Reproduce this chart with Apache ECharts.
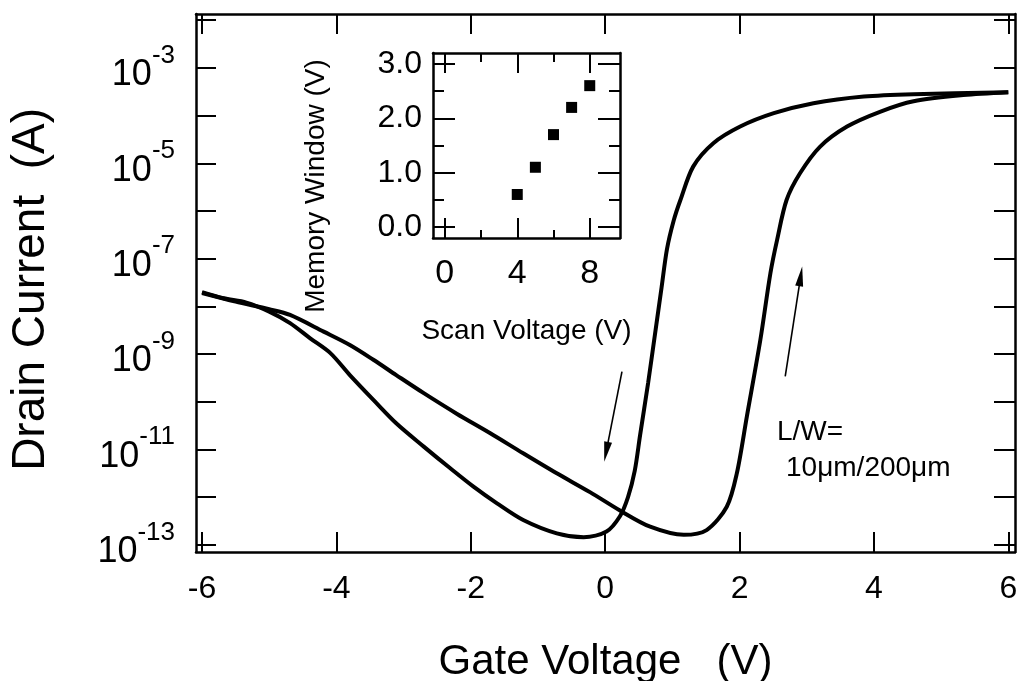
<!DOCTYPE html>
<html>
<head>
<meta charset="utf-8">
<script src="https://cdn.jsdelivr.net/npm/echarts@6/dist/echarts.min.js"></script>
<style>
  html, body { margin: 0; padding: 0; background: #fff; }
  #chart { width: 1024px; height: 681px; }
</style>
</head>
<body>
<div id="chart"></div>
<script>
// 主图数据：栅压 (V) 与 log10(漏电流/A)，两条扫描曲线
const gateA = [-6.0, -5.68, -5.34, -5.0, -4.69, -4.39, -4.09, -3.80, -3.45, -3.11, -2.70, -2.31, -1.96, -1.61, -1.22, -0.72, -0.32, 0.02, 0.22, 0.34, 0.44, 0.52, 0.64, 0.74, 0.84, 0.92, 1.02, 1.12, 1.31, 1.61, 2.01, 2.51, 3.10, 3.85, 4.59, 6.0];
const logIA = [-7.70, -7.83, -7.92, -8.11, -8.35, -8.67, -8.98, -9.44, -9.96, -10.45, -10.94, -11.39, -11.78, -12.13, -12.48, -12.76, -12.84, -12.72, -12.40, -12.0, -11.45, -10.7, -9.6, -8.6, -7.6, -6.8, -6.2, -5.77, -5.07, -4.58, -4.23, -3.95, -3.74, -3.60, -3.55, -3.51];
const gateB = [-6.0, -5.5, -5.0, -4.69, -4.19, -3.80, -3.45, -3.11, -2.70, -2.21, -1.71, -1.22, -0.72, -0.22, 0.22, 0.67, 1.17, 1.51, 1.81, 1.96, 2.11, 2.31, 2.46, 2.56, 2.70, 2.90, 3.20, 3.60, 4.09, 4.59, 5.33, 6.0];
const logIB = [-7.72, -7.90, -8.06, -8.18, -8.53, -8.81, -9.12, -9.44, -9.82, -10.25, -10.66, -11.08, -11.50, -11.90, -12.28, -12.62, -12.79, -12.69, -12.20, -11.50, -10.30, -8.70, -7.30, -6.60, -5.77, -5.21, -4.65, -4.23, -3.92, -3.70, -3.57, -3.51];

// 主图刻度
const xTicks = [-6, -4, -2, 0, 2, 4, 6];
const yTicks = [-13, -12, -11, -10, -9, -8, -7, -6, -5, -4, -3, -2];
const yLabels = [-13, -11, -9, -7, -5, -3];

// 插图数据：扫描电压 vs 记忆窗口
const scanV = [4, 5, 6, 7, 8];
const memWin = [0.6, 1.1, 1.7, 2.2, 2.6];
const insetXMajor = [0, 4, 8];
const insetXMinor = [2, 6];
const insetYMajor = [0, 1, 2, 3];
const insetYMinor = [0.5, 1.5, 2.5];

// 箭头：起点 -> 终点（数据坐标）
const arrows = [
  [[0.25, -9.37], [0.015, -11.05]],
  [[2.68, -9.47], [2.91, -7.37]]
];

const FONT = '"Liberation Sans", Arial, Helvetica, sans-serif';
const BLACK = '#000';

// 只画刻度的辅助轴（不贴零线）
function tickAxis(gridIndex, position, min, max, ticks, len, showLine) {
  return {
    type: 'value',
    gridIndex: gridIndex,
    position: position,
    min: min,
    max: max,
    axisLine: { show: showLine, onZero: false, lineStyle: { color: BLACK, width: 2.5 } },
    axisTick: { show: true, inside: true, length: len, customValues: ticks, lineStyle: { color: BLACK, width: 2 } },
    axisLabel: { show: false },
    splitLine: { show: false }
  };
}

const chart = echarts.init(document.getElementById('chart'));

const mainX = tickAxis(0, 'bottom', -6.09, 6.10, xTicks, 20, true);
mainX.axisLabel = { show: true, customValues: xTicks, fontSize: 32, color: BLACK, margin: 21, fontFamily: FONT };
mainX.name = 'Gate Voltage   (V)';
mainX.nameLocation = 'middle';
mainX.nameGap = 89;
mainX.nameTextStyle = { fontSize: 42, color: BLACK, fontFamily: FONT };

const mainY = tickAxis(0, 'left', -13.15, -1.87, yTicks, 20, true);
mainY.axisLabel = {
  show: true,
  customValues: yLabels,
  margin: 21,
  color: BLACK,
  fontFamily: FONT,
  formatter: v => '{b|10}{s|' + v + '}',
  rich: {
    b: { fontSize: 36, lineHeight: 51, verticalAlign: 'bottom', color: BLACK, fontFamily: FONT },
    s: { fontSize: 26, lineHeight: 26, verticalAlign: 'top', color: BLACK, fontFamily: FONT }
  }
};
mainY.name = 'Drain Current  (A) ';
mainY.nameLocation = 'middle';
mainY.nameGap = 142;
mainY.nameTextStyle = { fontSize: 46, color: BLACK, fontFamily: FONT };

const insetX = tickAxis(1, 'bottom', -0.65, 9.67, insetXMajor, 20, true);
insetX.axisLabel = { show: true, customValues: insetXMajor, fontSize: 34, color: BLACK, margin: 19, fontFamily: FONT };
insetX.name = 'Scan Voltage (V)';
insetX.nameLocation = 'middle';
insetX.nameGap = 79;
insetX.nameTextStyle = { fontSize: 28, color: BLACK, fontFamily: FONT };

const insetY = tickAxis(1, 'left', -0.2, 3.2, insetYMajor, 22, true);
insetY.axisLabel = { show: true, customValues: insetYMajor, fontSize: 32, color: BLACK, margin: 11, fontFamily: FONT, formatter: v => v.toFixed(1) };

const option = {
  animation: false,
  backgroundColor: '#fff',
  textStyle: { fontFamily: FONT },
  grid: [
    { left: 196, top: 14, right: 9, bottom: 129, outerBoundsMode: 'none' },
    { left: 433, top: 53, width: 187, height: 185, outerBoundsMode: 'none' }
  ],
  xAxis: [
    mainX,
    tickAxis(0, 'top', -6.09, 6.10, xTicks, 20, true),
    insetX,
    tickAxis(1, 'bottom', -0.65, 9.67, insetXMinor, 8, false),
    tickAxis(1, 'top', -0.65, 9.67, insetXMajor, 20, true),
    tickAxis(1, 'top', -0.65, 9.67, insetXMinor, 9, false)
  ],
  yAxis: [
    mainY,
    tickAxis(0, 'right', -13.15, -1.87, yTicks, 21, true),
    insetY,
    tickAxis(1, 'left', -0.2, 3.2, insetYMinor, 11, false),
    tickAxis(1, 'right', -0.2, 3.2, insetYMajor, 22, true),
    tickAxis(1, 'right', -0.2, 3.2, insetYMinor, 11, false)
  ],
  series: [
    {
      name: 'sweep A',
      type: 'line',
      xAxisIndex: 0,
      yAxisIndex: 0,
      data: gateA.map((v, i) => [v, logIA[i]]),
      showSymbol: false,
      symbol: 'none',
      smooth: 0.3,
      lineStyle: { color: BLACK, width: 4 },
      silent: true,
      markLine: {
        silent: true,
        symbol: ['none', 'triangle'],
        symbolSize: [0, 14],
        label: { show: false },
        emphasis: { disabled: true },
        lineStyle: { color: BLACK, width: 1.6, type: 'solid' },
        data: arrows.map(a => [
          { coord: a[0] },
          { coord: a[1], symbolSize: [8, 20] }
        ])
      }
    },
    {
      name: 'sweep B',
      type: 'line',
      xAxisIndex: 0,
      yAxisIndex: 0,
      data: gateB.map((v, i) => [v, logIB[i]]),
      showSymbol: false,
      symbol: 'none',
      smooth: 0.3,
      lineStyle: { color: BLACK, width: 4 },
      silent: true
    },
    {
      name: 'memory window',
      type: 'scatter',
      xAxisIndex: 2,
      yAxisIndex: 2,
      data: scanV.map((v, i) => [v, memWin[i]]),
      symbol: 'rect',
      symbolSize: 11,
      itemStyle: { color: BLACK, opacity: 1 },
      silent: true
    }
  ],
  graphic: [
    {
      type: 'text',
      x: 316,
      y: 186,
      rotation: Math.PI / 2,
      style: { text: 'Memory Window (V)', fontSize: 28, fontFamily: FONT, fill: BLACK, align: 'center', verticalAlign: 'middle', textAlign: 'center', textVerticalAlign: 'middle' }
    },
    {
      type: 'text',
      x: 777,
      y: 432,
      style: { text: 'L/W=', fontSize: 28, fontFamily: FONT, fill: BLACK, align: 'left', verticalAlign: 'middle', textAlign: 'left', textVerticalAlign: 'middle' }
    },
    {
      type: 'text',
      x: 786,
      y: 468,
      style: { text: '10μm/200μm', fontSize: 28, fontFamily: FONT, fill: BLACK, align: 'left', verticalAlign: 'middle', textAlign: 'left', textVerticalAlign: 'middle' }
    }
  ]
};

chart.setOption(option);
</script>
</body>
</html>
